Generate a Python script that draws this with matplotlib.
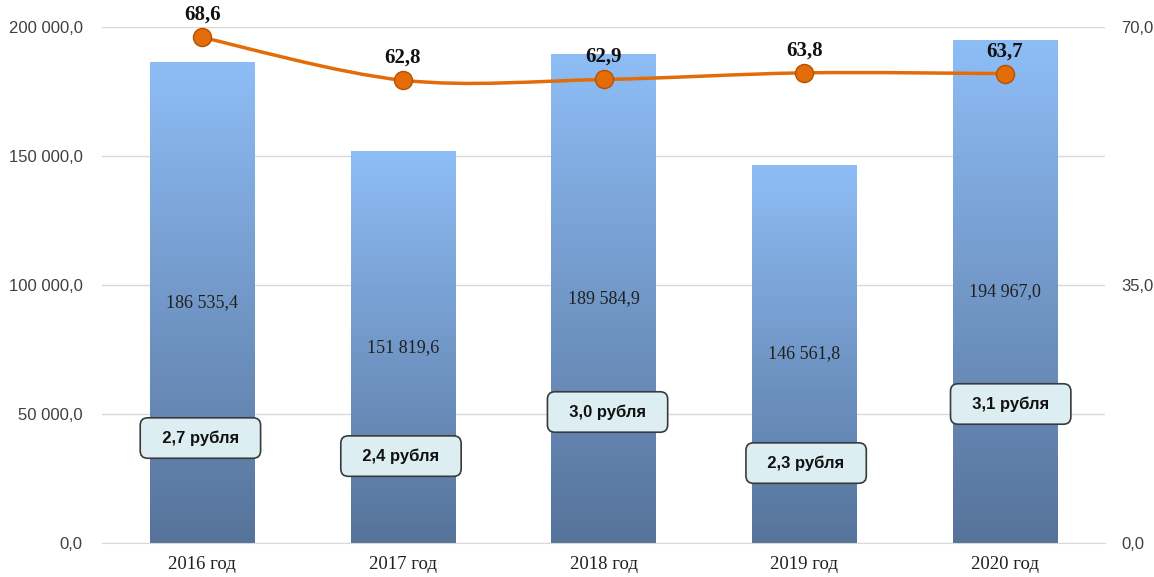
import numpy as np
import matplotlib.pyplot as plt
from matplotlib.path import Path
from matplotlib.patches import PathPatch
from matplotlib.colors import LinearSegmentedColormap

# data
years = ["2016 год", "2017 год", "2018 год", "2019 год", "2020 год"]
amounts = [186535.4, 151819.6, 189584.9, 146561.8, 194967.0]
share = [68.6, 62.8, 62.9, 63.8, 63.7]
per_rub = ["2,7 рубля", "2,4 рубля", "3,0 рубля", "2,3 рубля", "3,1 рубля"]
left_ticks = [0, 50000, 100000, 150000, 200000]
right_ticks = [0, 35, 70]

# where the callout boxes sit (left-axis units)
box_y = [40700, 33700, 50800, 31000, 53900]
box_dx = [-0.01, -0.01, 0.02, 0.01, 0.03]


def fmt(v):
    s = f"{v:,.1f}".replace(",", " ").replace(".", ",")
    return s


serif = "Liberation Serif"
sans = "Liberation Sans"

fig = plt.figure(figsize=(11.54, 5.77), dpi=100)
ax = fig.add_axes([0.0885, 0.0589, 0.869, 0.894])
x = np.arange(len(years))
w = 0.52

ax.set_xlim(-0.5, len(years) - 0.5)
ax.set_ylim(0, 200000)

# gradient bars
cmap = LinearSegmentedColormap.from_list("bl", ["#56739A", "#8EBDF6"])
grad = np.linspace(0, 1, 256).reshape(-1, 1)
bars = ax.bar(x, amounts, width=w, color="none", zorder=2)
for b in bars:
    x0, y0 = b.get_x(), b.get_y()
    im = ax.imshow(grad, cmap=cmap, origin="lower", aspect="auto",
                   extent=[x0, x0 + b.get_width(), y0, y0 + b.get_height()], zorder=2)
    im.set_clip_path(b)

ax.set_yticks(left_ticks)
ax.set_yticklabels([fmt(t) for t in left_ticks], fontfamily=sans, fontsize=12, color="#404040")
ax.set_xticks(x)
ax.set_xticklabels(years, fontfamily=serif, fontsize=13.5, color="#202020")
ax.tick_params(length=0, pad=14)
ax.tick_params(axis="x", pad=9)
ax.grid(axis="y", color="#D9D9D9", lw=1, zorder=0)
ax.set_axisbelow(True)
for s in ["top", "right", "left"]:
    ax.spines[s].set_visible(False)
ax.spines["bottom"].set_color("#D9D9D9")

for xi, v in zip(x, amounts):
    ax.text(xi, v / 2, fmt(v), ha="center", va="center", fontfamily=serif,
            fontsize=13, color="#202020", zorder=4)

for xi, dx, yb, t in zip(x, box_dx, box_y, per_rub):
    ax.text(xi + dx, yb, "  " + t + "  ", ha="center", va="center", fontfamily=sans, fontsize=12,
            fontweight="bold", color="#111111", zorder=5,
            bbox=dict(boxstyle="round,pad=0.75,rounding_size=0.45", fc="#DDEEF3", ec="#3A3A3A", lw=1.2))

# right axis with smoothed line
ax2 = ax.twinx()
ax2.set_ylim(0, 70)
ax2.set_yticks(right_ticks)
ax2.set_yticklabels([fmt(t) for t in right_ticks], fontfamily=sans, fontsize=12, color="#404040")
ax2.tick_params(length=0, pad=12)
for s in ax2.spines.values():
    s.set_visible(False)

# catmull-rom -> bezier for smooth line
pts = np.column_stack([x, share]).astype(float)
verts = [tuple(pts[0])]
codes = [Path.MOVETO]
n = len(pts)
for i in range(n - 1):
    p0 = pts[max(i - 1, 0)]
    p1 = pts[i]
    p2 = pts[i + 1]
    p3 = pts[min(i + 2, n - 1)]
    c1 = p1 + (p2 - p0) / 6
    c2 = p2 - (p3 - p1) / 6
    verts += [tuple(c1), tuple(c2), tuple(p2)]
    codes += [Path.CURVE4] * 3
ax2.add_patch(PathPatch(Path(verts, codes), fc="none", ec="#E36C09", lw=2.5, zorder=6))
ax2.plot(x, share, "o", ms=13, mfc="#E36C09", mec="#B55200", mew=1, zorder=7)
for xi, v in zip(x, share):
    ax2.annotate(fmt(v), (xi, v), xytext=(0, 9), textcoords="offset points",
                 ha="center", va="bottom", fontfamily=serif, fontsize=15,
                 fontweight="bold", color="#111111", zorder=8)

fig.savefig("out.png", dpi=100)
